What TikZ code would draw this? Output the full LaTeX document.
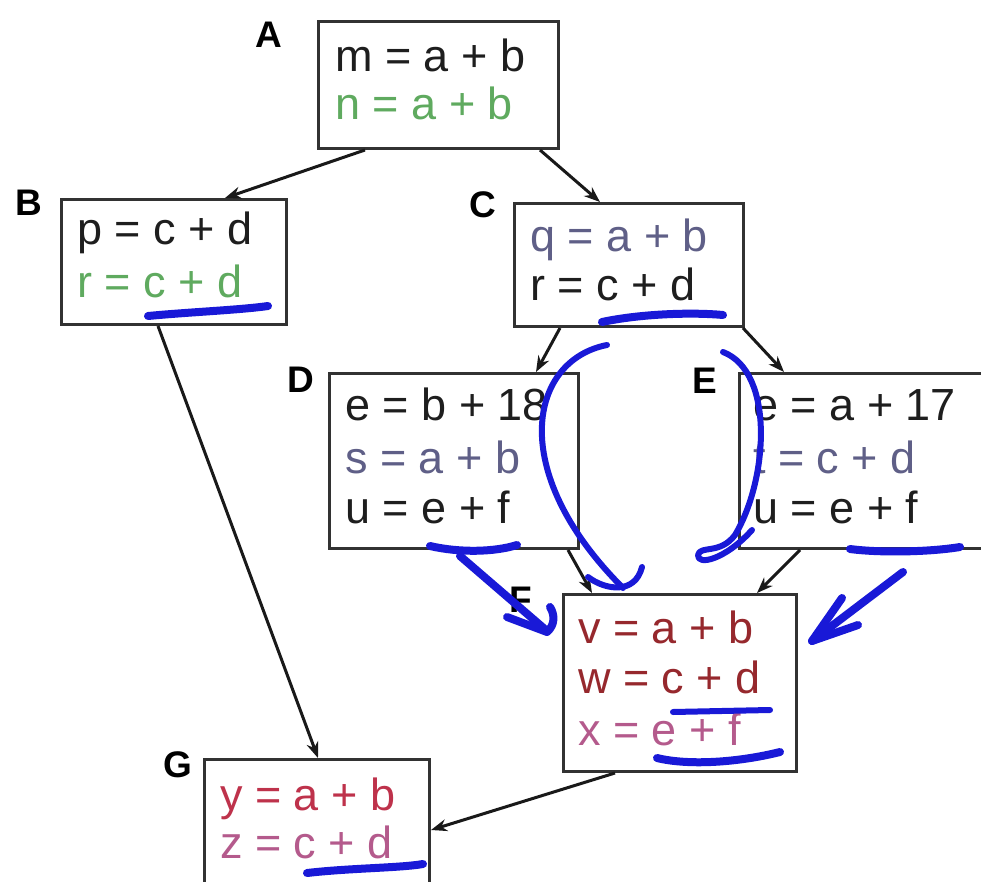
\documentclass[tikz,border=0pt]{standalone}
\usepackage{fontspec}
\setmainfont{Liberation Sans}
\usetikzlibrary{arrows.meta,calc}
\definecolor{inkblue}{RGB}{25,25,215}
\definecolor{boxline}{RGB}{50,50,50}
\definecolor{cgreen}{RGB}{95,170,95}
\definecolor{cgray}{RGB}{95,95,135}
\definecolor{cred}{RGB}{150,40,45}
\definecolor{cpink}{RGB}{180,90,140}
\definecolor{cyred}{RGB}{190,50,75}
\definecolor{ctext}{RGB}{30,30,30}
\begin{document}
\begin{tikzpicture}[x=1pt,y=-1pt,
  box/.style={draw=boxline, line width=3pt, fill=white, inner sep=0pt, anchor=north west},
  code/.style={anchor=base west, inner sep=0pt, text=ctext, font=\fontsize{45}{50}\selectfont},
  lab/.style={anchor=base west, inner sep=0pt, font=\fontsize{37}{40}\selectfont\bfseries},
  arr/.style={draw=black!90, line width=3pt, -{Stealth[length=16pt,width=12pt]}},
  ink/.style={draw=inkblue, line width=8pt, line cap=round, line join=round},
  thinink/.style={draw=inkblue, line width=6pt, line cap=round, line join=round}]
\clip (0,0) rectangle (981,882);
\fill[white] (0,0) rectangle (981,882);

% boxes
\node[box, minimum width=240, minimum height=127] (A) at (317,20) {};
\node[box, minimum width=225, minimum height=125] (B) at (60,198) {};
\node[box, minimum width=229, minimum height=123] (C) at (513,202) {};
\node[box, minimum width=249, minimum height=175] (D) at (328,372) {};
\node[box, minimum width=280, minimum height=175] (E) at (738,372) {};
\node[box, minimum width=233, minimum height=177] (F) at (562,593) {};
\node[box, minimum width=225, minimum height=160] (G) at (203,758) {};

% labels
\node[lab] (lA) at (255,48) {A};
\node[lab] (lB) at (15,216) {B};
\node[lab] (lC) at (469,218) {C};
\node[lab] (lD) at (287,392) {D};
\node[lab] (lE) at (692,393) {E};
\node[lab] (lF) at (509,612) {F};
\node[lab] (lG) at (163,777) {G};

% texts
\node[code] (a1) at (335,72) {m = a + b};
\node[code, text=cgreen] (a2) at (335,120) {n = a + b};
\node[code] (b1) at (77,245) {p = c + d};
\node[code, text=cgreen] (b2) at (77,298) {r = c + d};
\node[code, text=cgray] (c1) at (530,252) {q = a + b};
\node[code] (c2) at (530,300) {r = c + d};
\node[code] (d1) at (345,420) {e = b + 18};
\node[code, text=cgray] (d2) at (345,473) {s = a + b};
\node[code] (d3) at (345,523) {u = e + f};
\node[code] (e1) at (753,420) {e = a + 17};
\node[code, text=cgray] (e2) at (753,473) {t = c + d};
\node[code] (e3) at (753,523) {u = e + f};
\node[code, text=cred] (f1) at (578,643) {v = a + b};
\node[code, text=cred] (f2) at (578,693) {w = c + d};
\node[code, text=cpink] (f3) at (578,745) {x = e + f};
\node[code, text=cyred] (g1) at (220,810) {y = a + b};
\node[code, text=cpink] (g2) at (220,858) {z = c + d};

% black connectors
\draw[arr] ($(A.south west)+(48,0)$) -- ($(B.north west)+(165,0)$);
\draw[arr] ($(A.south west)+(223,0)$) -- ($(C.north west)+(87,0)$);
\draw[arr] ($(B.south west)+(98,0)$) -- ($(G.north west)+(115,0)$);
\draw[arr] ($(C.south west)+(47,0)$) -- ($(D.north east)+(-44,0)$);
\draw[arr] ($(C.south east)+(-2,0)$) -- ($(E.north west)+(46,0)$);
\draw[arr] ($(D.south east)+(-12,0)$) -- ($(F.north west)+(30,0)$);
\draw[arr] ($(E.south west)+(62,0)$) -- ($(F.north west)+(195,0)$);
\draw[arr] ($(F.south west)+(53,0)$) -- ($(G.north east)+(0,72)$);

% blue ink marks
\draw[ink] (148,316) .. controls (190,312) and (240,310) .. (268,306);
\draw[ink] (602,322) .. controls (640,314) and (690,312) .. (723,315);
\draw[ink] (307,873) .. controls (350,868) and (400,868) .. (423,864);
% C curve to F
\draw[thinink] (607,345) .. controls (530,360) and (505,470) .. (623,588);
\draw[thinink] (588,577) .. controls (605,590) and (635,595) .. (642,567);
% D underline and arrow
\draw[ink] (430,546) .. controls (460,553) and (495,552) .. (517,545);
\draw[ink] (460,556) -- (547,631);
\draw[ink] (507,617) -- (547,632) .. controls (555,625) and (555,615) .. (550,607);
% E loop
\draw[thinink] (723,352) .. controls (775,372) and (768,480) .. (735,535)
  .. controls (720,555) and (700,545) .. (698,555)
  .. controls (697,566) and (725,560) .. (752,530);
% E underline and arrow
\draw[ink] (850,549) .. controls (880,553) and (930,552) .. (960,547);
\draw[ink] (903,572) -- (812,641);
\draw[ink] (842,598) -- (812,641) -- (858,625);
% F marks
\draw[thinink] (673,712) -- (770,710);
\draw[ink] (657,758) .. controls (690,766) and (740,762) .. (780,752);
\end{tikzpicture}
\end{document}
